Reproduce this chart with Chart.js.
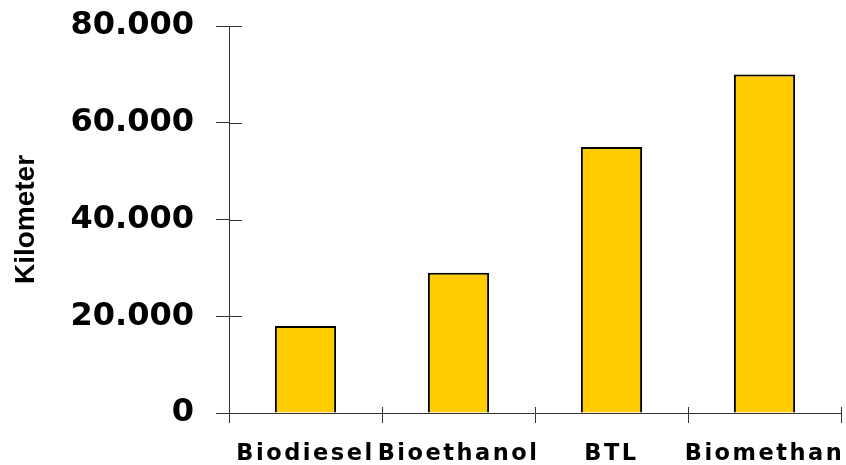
<!DOCTYPE html>
<html>
<head>
<meta charset="utf-8">
<script src="https://cdn.jsdelivr.net/npm/chart.js@4/dist/chart.umd.min.js"></script>
<style>
  html, body { margin: 0; padding: 0; background: #fff; }
  #wrap { width: 846px; height: 465px; }
</style>
</head>
<body>
<div id="wrap"><canvas id="fuel-chart" width="846" height="465"></canvas></div>
<script>
const categories = ["Biodiesel", "Bioethanol", "BTL", "Biomethan"];
const kilometers = [18000, 29000, 55000, 70000];
const yTicks = [0, 20000, 40000, 60000, 80000];

const axisColor = "#333333";
const wide = "2.5px";

// wide look of the category labels only
const spacingPlugin = {
  id: "spacing",
  beforeDraw(chart) {
    const c = chart.ctx;
    const x = chart.scales.x;
    if (!x._spacingPatched) {
      const orig = x.drawLabels;
      x.drawLabels = function () {
        c.letterSpacing = wide;
        orig.apply(this, arguments);
        c.letterSpacing = "0px";
      };
      x._spacingPatched = true;
    }
  },
  afterDraw(chart) {
    // tick marks that cross into the plot area
    const c = chart.ctx;
    const x = chart.scales.x;
    const y = chart.scales.y;
    c.save();
    c.strokeStyle = axisColor;
    c.lineWidth = 1;
    c.beginPath();
    yTicks.forEach((v) => {
      const py = Math.round(y.getPixelForValue(v)) + 0.5;
      c.moveTo(x.left, py);
      c.lineTo(x.left + 13, py);
    });
    for (let i = 0; i <= categories.length; i++) {
      const px = Math.round(x.left + (i * (x.right - x.left)) / categories.length) + 0.5;
      c.moveTo(px, y.bottom - 6);
      c.lineTo(px, y.bottom);
    }
    c.stroke();
    c.restore();
  },
};

const ctx = document.getElementById("fuel-chart").getContext("2d");
const graph = new Chart(ctx, {
  type: "bar",
  data: {
    labels: categories,
    datasets: [
      {
        data: kilometers,
        backgroundColor: "#FFCC00",
        borderColor: "#000000",
        borderWidth: 2,
        barPercentage: 0.4,
        categoryPercentage: 1,
      },
    ],
  },
  options: {
    responsive: false,
    animation: false,
    layout: {
      padding: { top: 26, right: 5, left: 9, bottom: 0 },
    },
    plugins: {
      legend: { display: false },
      tooltip: { enabled: false },
    },
    scales: {
      x: {
        offset: true,
        grid: {
          offset: true,
          drawOnChartArea: false,
          color: axisColor,
          tickLength: 10,
        },
        border: { color: axisColor, width: 1 },
        ticks: {
          color: "#000",
          padding: 18,
          autoSkip: false,
          maxRotation: 0,
          font: { family: "DejaVu Sans", size: 22.5, weight: "bold" },
        },
        afterFit(scale) {
          scale.height = 52;
          scale.paddingLeft = 0;
          scale.paddingRight = 0;
        },
      },
      y: {
        min: 0,
        max: 80000,
        afterBuildTicks(scale) {
          scale.ticks = yTicks.map((v) => ({ value: v }));
        },
        grid: {
          drawOnChartArea: false,
          color: axisColor,
          tickLength: 13,
        },
        border: { color: axisColor, width: 1 },
        title: {
          display: true,
          text: "Kilometer",
          color: "#000",
          padding: { top: 0, bottom: 0 },
          font: { family: "Liberation Sans, Arial", size: 28, weight: "bold" },
        },
        ticks: {
          color: "#000",
          padding: 22,
          font: { family: "DejaVu Sans", size: 32, weight: "bold" },
          callback: (v) => (v === 0 ? "0" : v / 1000 + ".000"),
        },
        afterFit(scale) {
          scale.width = 220;
          scale.paddingTop = 0;
          scale.paddingBottom = 0;
        },
      },
    },
  },
  plugins: [spacingPlugin],
});
</script>
</body>
</html>
